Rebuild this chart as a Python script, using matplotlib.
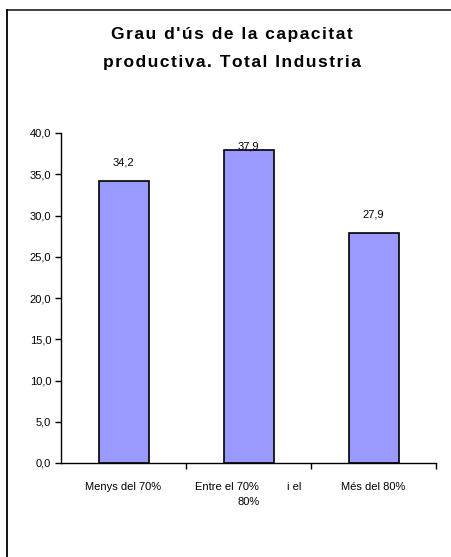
import matplotlib.pyplot as plt
from matplotlib.lines import Line2D

categorias = ["Menys del 70%", "Entre el 70%         i el\n80%", "Més del 80%"]
valores = [34.2, 37.9, 27.9]
ticks_y = [0, 5, 10, 15, 20, 25, 30, 35, 40]
titulo = ["Grau d'ús de la capacitat", "productiva. Total Industria"]

plt.rcParams["font.family"] = ["Liberation Sans", "DejaVu Sans"]

fig = plt.figure(figsize=(4.51, 5.57), dpi=100)
ax = fig.add_axes([61 / 451, (557 - 463) / 557, 375 / 451, 330 / 557])

x = range(len(valores))
ax.bar(x, valores, width=0.4, color="#9999FF", edgecolor="black", linewidth=1.2, zorder=2)

for i, v in enumerate(valores):
    y = min(v + 2.2, 38.4)
    ax.text(i, y, f"{v:.1f}".replace(".", ","), ha="center", va="center", fontsize=8)

ax.set_xlim(-0.5, 2.5)
ax.set_ylim(0, 40)
ax.set_yticks(ticks_y)
ax.set_yticklabels([f"{t:.1f}".replace(".", ",") for t in ticks_y], fontsize=8)
ax.tick_params(axis="y", length=4, width=1, direction="out", pad=3)

ax.set_xticks(list(x))
ax.set_xticklabels(categorias, fontsize=8, linespacing=1.6)
ax.tick_params(axis="x", which="major", length=0, pad=14)
ax.set_xticks([0.5, 1.5, 2.5], minor=True)
ax.tick_params(axis="x", which="minor", length=4, width=1, direction="out")

for lado in ["top", "right"]:
    ax.spines[lado].set_visible(False)
ax.spines["left"].set_linewidth(1)
ax.spines["bottom"].set_linewidth(1)

# título con un poco de espacio entre letras
for linea, ypx in zip(titulo, [35, 63]):
    fig.text(232 / 451, 1 - ypx / 557, "\u200a".join(linea),
             ha="center", va="center", fontsize=12.5, fontweight="bold")

# marco parcial (solo arriba e izquierda)
fig.add_artist(Line2D([7 / 451, 1], [1 - 10 / 557, 1 - 10 / 557], color="#333333", linewidth=1.3, transform=fig.transFigure))
fig.add_artist(Line2D([7 / 451, 7 / 451], [0, 1 - 10 / 557], color="black", linewidth=1.3, transform=fig.transFigure))

fig.savefig("out.png", dpi=100)
